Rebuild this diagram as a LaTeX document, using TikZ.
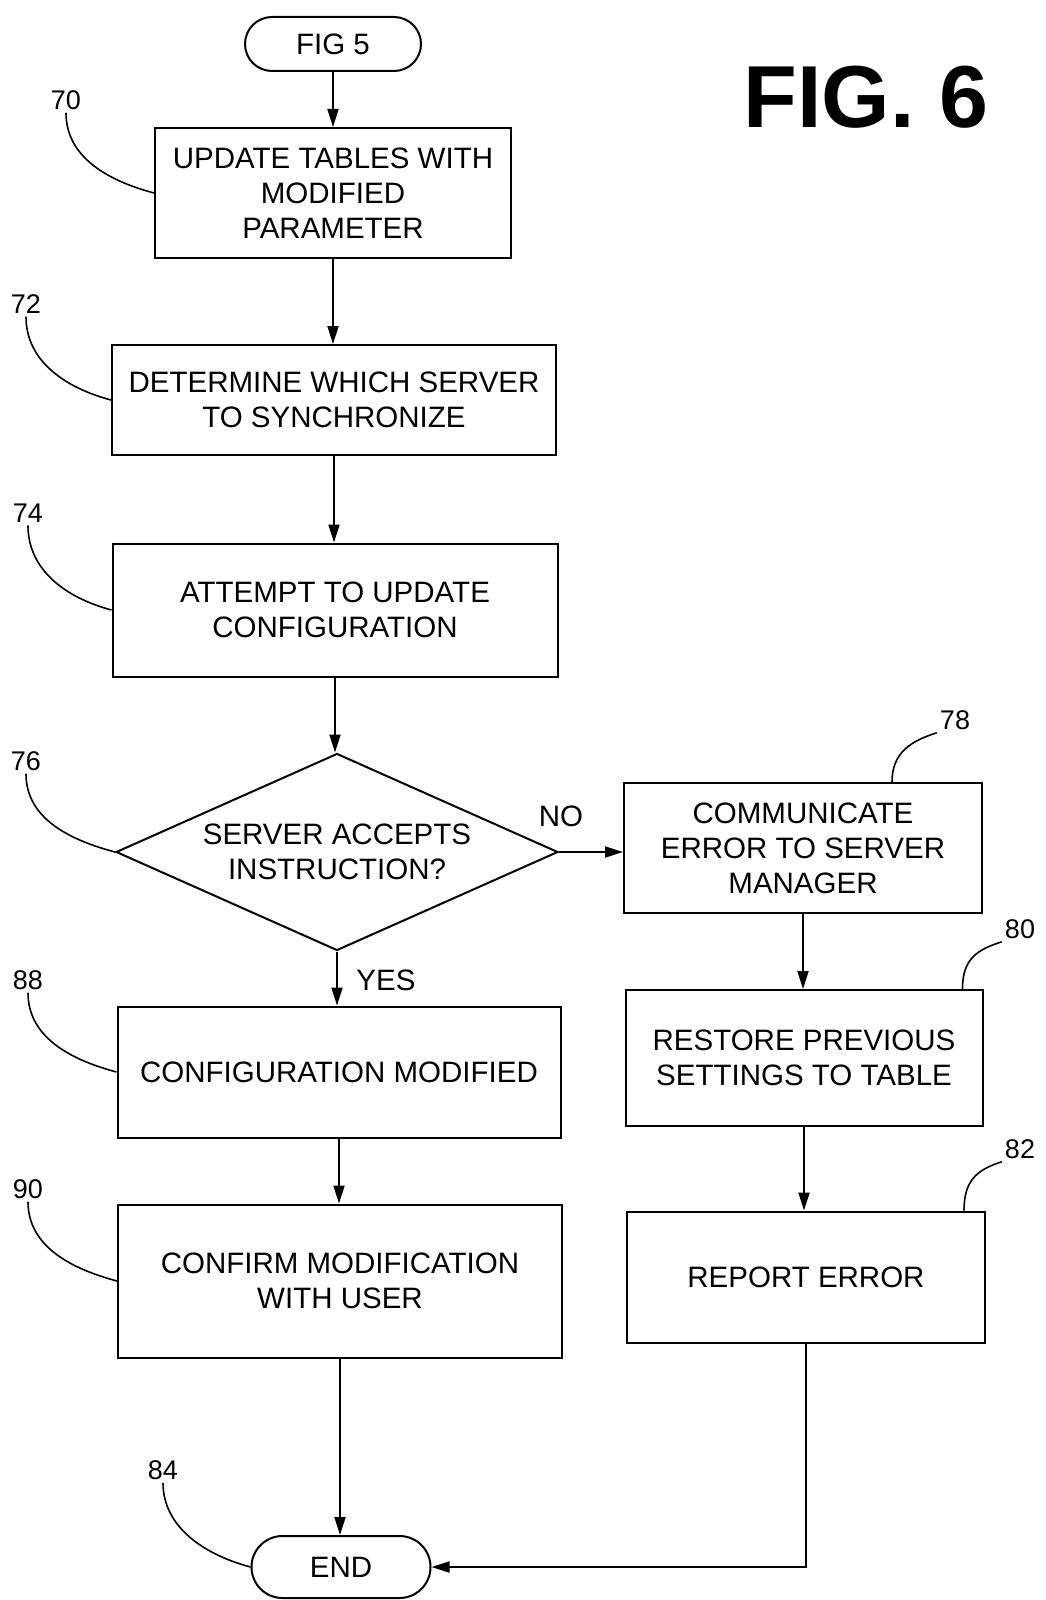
\documentclass[tikz,border=0pt]{standalone}
\usepackage{fontspec}
\setmainfont{Liberation Sans}
\usetikzlibrary{shapes.geometric,shapes.misc,arrows.meta}
\begin{document}
\begin{tikzpicture}[x=1pt,y=-1pt,
 every node/.style={font=\fontsize{29.5}{35}\selectfont},
 box/.style={draw,line width=2pt,align=center,inner sep=0pt},
 term/.style={draw,line width=2pt,rounded rectangle,inner sep=0pt},
 arr/.style={line width=2pt,-{Triangle[length=18pt,width=11pt]}},
 lead/.style={line width=1.6pt},
 lab/.style={font=\fontsize{27}{30}\selectfont,inner sep=3pt}]
\useasboundingbox (0,0) rectangle (1045,1600);

\node[term,minimum width=176pt,minimum height=54pt] (fig5) at (333,44) {FIG 5};
\node[box,minimum width=356pt,minimum height=130pt] (b70) at (333,193) {UPDATE TABLES WITH\\MODIFIED\\PARAMETER};
\node[box,minimum width=444pt,minimum height=110pt] (b72) at (334,400) {DETERMINE WHICH SERVER\\TO SYNCHRONIZE};
\node[box,minimum width=445pt,minimum height=133pt] (b74) at (335,610) {ATTEMPT TO UPDATE\\CONFIGURATION};
\node[diamond,draw,line width=2pt,minimum width=442pt,minimum height=197pt,inner sep=0pt,aspect=2.24,align=center] (d76) at (337,852) {SERVER ACCEPTS\\INSTRUCTION?};
\node[box,minimum width=358pt,minimum height=130pt] (b78) at (803,848) {COMMUNICATE\\ERROR TO SERVER\\MANAGER};
\node[box,minimum width=357pt,minimum height=136pt] (b80) at (804,1058) {RESTORE PREVIOUS\\SETTINGS TO TABLE};
\node[box,minimum width=358pt,minimum height=131pt] (b82) at (806,1277) {REPORT ERROR};
\node[box,minimum width=443pt,minimum height=131pt] (b88) at (339,1072) {CONFIGURATION MODIFIED};
\node[box,minimum width=444pt,minimum height=153pt] (b90) at (340,1281) {CONFIRM MODIFICATION\\WITH USER};
\node[term,minimum width=179pt,minimum height=62pt] (end) at (341,1567) {END};

\node[font=\bfseries\fontsize{88}{90}\selectfont] (title) at (866,97) {FIG. 6};

\node[lab] (l70) at (66,100) {70};
\node[lab] (l72) at (26,304) {72};
\node[lab] (l74) at (28,513) {74};
\node[lab] (l76) at (26,761) {76};
\node[lab] (l88) at (28,980) {88};
\node[lab] (l90) at (28,1189) {90};
\node[lab] (l84) at (163,1470) {84};
\node[lab] (l78) at (955,720) {78};
\node[lab] (l80) at (1020,929) {80};
\node[lab] (l82) at (1020,1149) {82};

\draw[lead] (l70.south) .. controls +(0,45) and +(-45,-12) .. (b70.west);
\draw[lead] (l72.south) .. controls +(0,45) and +(-45,-12) .. (b72.west);
\draw[lead] (l74.south) .. controls +(0,45) and +(-45,-12) .. (b74.west);
\draw[lead] (l76.south) .. controls +(0,45) and +(-45,-12) .. (d76.west);
\draw[lead] (l88.south) .. controls +(0,45) and +(-45,-12) .. (b88.west);
\draw[lead] (l90.south) .. controls +(0,45) and +(-45,-12) .. (b90.west);
\draw[lead] (l84.south) .. controls +(0,45) and +(-45,-12) .. (end.west);
\draw[lead] (l78.south west) .. controls +(-25,8) and +(0,-30) .. ([xshift=89pt]b78.north);
\draw[lead] (l80.south west) .. controls +(-25,8) and +(0,-30) .. ([xshift=-21pt]b80.north east);
\draw[lead] (l82.south west) .. controls +(-25,8) and +(0,-30) .. ([xshift=-22pt]b82.north east);

\draw[arr] (fig5.south) -- (fig5.south |- b70.north);
\draw[arr] (b70.south) -- (b70.south |- b72.north);
\draw[arr] (b72.south) -- (b72.south |- b74.north);
\draw[arr] (b74.south) -- (b74.south |- d76.north);
\draw[arr] (d76.east) -- (d76.east -| b78.west);
\draw[arr] (d76.south) -- (d76.south |- b88.north);
\draw[arr] (b88.south) -- (b88.south |- b90.north);
\draw[arr] (b90.south) -- (b90.south |- end.north);
\draw[arr] (b78.south) -- (b78.south |- b80.north);
\draw[arr] (b80.south) -- (b80.south |- b82.north);
\draw[arr] (b82.south) |- (end.east);

\node (no) at (561,816) {NO};
\node (yes) at (386,980) {YES};
\end{tikzpicture}
\end{document}
